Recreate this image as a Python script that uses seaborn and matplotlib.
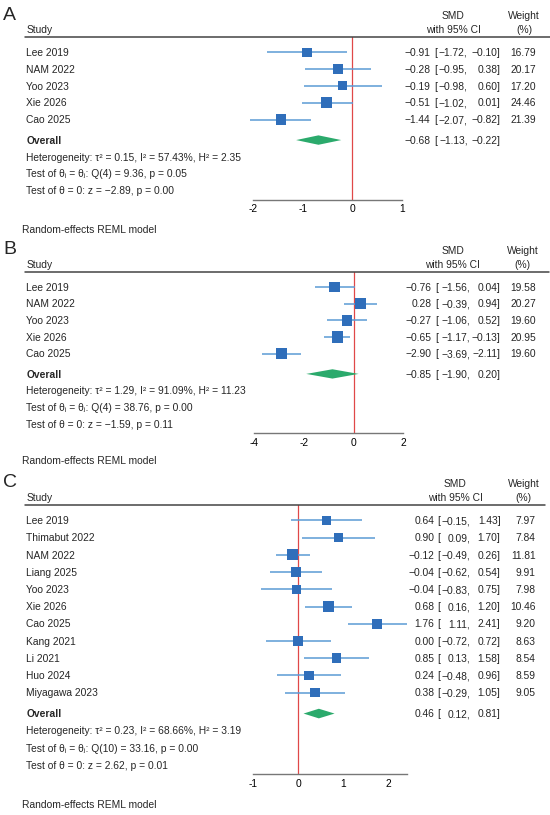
import matplotlib
matplotlib.use("Agg")
import matplotlib.pyplot as plt
import matplotlib.transforms as mtransforms
import pandas as pd
import seaborn as sns

# ---- data, panel A
a_studies = ["Lee 2019", "NAM 2022", "Yoo 2023", "Xie 2026", "Cao 2025"]
a_smd = [-0.91, -0.28, -0.19, -0.51, -1.44]
a_lo = [-1.72, -0.95, -0.98, -1.02, -2.07]
a_hi = [-0.10, 0.38, 0.60, 0.01, -0.82]
a_weight = [16.79, 20.17, 17.20, 24.46, 21.39]
a_overall = [-0.68, -1.13, -0.22]
a_stats = ["Heterogeneity: τ² = 0.15, I² = 57.43%, H² = 2.35",
           "Test of θᵢ = θⱼ: Q(4) = 9.36, p = 0.05",
           "Test of θ = 0: z = −2.89, p = 0.00"]
a_ticks = [-2, -1, 0, 1]

# ---- data, panel B
b_studies = ["Lee 2019", "NAM 2022", "Yoo 2023", "Xie 2026", "Cao 2025"]
b_smd = [-0.76, 0.28, -0.27, -0.65, -2.90]
b_lo = [-1.56, -0.39, -1.06, -1.17, -3.69]
b_hi = [0.04, 0.94, 0.52, -0.13, -2.11]
b_weight = [19.58, 20.27, 19.60, 20.95, 19.60]
b_overall = [-0.85, -1.90, 0.20]
b_stats = ["Heterogeneity: τ² = 1.29, I² = 91.09%, H² = 11.23",
           "Test of θᵢ = θⱼ: Q(4) = 38.76, p = 0.00",
           "Test of θ = 0: z = −1.59, p = 0.11"]
b_ticks = [-4, -2, 0, 2]

# ---- data, panel C
c_studies = ["Lee 2019", "Thimabut 2022", "NAM 2022", "Liang 2025", "Yoo 2023",
             "Xie 2026", "Cao 2025", "Kang 2021", "Li 2021", "Huo 2024",
             "Miyagawa 2023"]
c_smd = [0.64, 0.90, -0.12, -0.04, -0.04, 0.68, 1.76, 0.00, 0.85, 0.24, 0.38]
c_lo = [-0.15, 0.09, -0.49, -0.62, -0.83, 0.16, 1.11, -0.72, 0.13, -0.48, -0.29]
c_hi = [1.43, 1.70, 0.26, 0.54, 0.75, 1.20, 2.41, 0.72, 1.58, 0.96, 1.05]
c_weight = [7.97, 7.84, 11.81, 9.91, 7.98, 10.46, 9.20, 8.63, 8.54, 8.59, 9.05]
c_overall = [0.46, 0.12, 0.81]
c_stats = ["Heterogeneity: τ² = 0.23, I² = 68.66%, H² = 3.19",
           "Test of θᵢ = θⱼ: Q(10) = 33.16, p = 0.00",
           "Test of θ = 0: z = 2.62, p = 0.01"]
c_ticks = [-1, 0, 1, 2]

sns.set_theme(style="white")
plt.rcParams['font.family'] = ['Liberation Sans', 'DejaVu Sans']
plt.rcParams['axes.unicode_minus'] = False

W, H = 550, 815
fig = plt.figure(figsize=(5.5, 8.15), dpi=100)

SQ = "#2F6EBA"
CI = "#5B9BD5"
GREEN = "#2BAA6C"
RED = "#E04848"
FS = 7.4
DROP = 3.7  # px from text centre to baseline


def fx(x):
    return x / W


def fy(y):
    return 1 - y / H


def fmt(v):
    return f"{v:.2f}".replace("-", "\u2212")


def panel(label, studies, smd, lo, hi, weight, overall, stats, ticks,
          box, xlim, cols, heads, head_y, line_right, label_y, foot_y):
    left, right, top, bottom = box
    ax = fig.add_axes([fx(left), fy(bottom), fx(right - left), (bottom - top) / H])
    n = len(studies)
    df = pd.DataFrame({"study": studies, "smd": smd, "lo": lo, "hi": hi,
                       "weight": weight, "row": range(n)})
    side = 8.0  # points, side of the biggest square
    sizes = side ** 2 * df["weight"] / df["weight"].max()

    ax.hlines(df["row"], df["lo"], df["hi"], color=CI, lw=1.1, clip_on=False, zorder=2)
    sns.scatterplot(data=df, x="smd", y="row", marker="s", s=sizes, color=SQ,
                    linewidth=0, legend=False, ax=ax, clip_on=False, zorder=3)
    oy = n + 0.22
    est, olo, ohi = overall
    ax.fill([olo, est, ohi, est], [oy, oy - 0.28, oy, oy + 0.28], color=GREEN,
            lw=0, clip_on=False, zorder=3)
    ax.axvline(0, color=RED, lw=0.9, zorder=1)

    ax.set_xlim(*xlim)
    ax.set_ylim(n + 3.75, -0.9)
    ax.set_yticks([])
    ax.set_xticks(ticks)
    ax.set_xticklabels([str(t) for t in ticks])
    ax.set_xlabel("")
    ax.set_ylabel("")
    for s in ["top", "left", "right"]:
        ax.spines[s].set_visible(False)
    ax.spines["bottom"].set_bounds(*xlim)
    ax.spines["bottom"].set_color("#777777")
    ax.spines["bottom"].set_linewidth(1.0)
    ax.tick_params(axis="x", direction="out", length=3, width=0.8, colors="#777777",
                   labelcolor="black", labelsize=FS, pad=0.5)
    ax.patch.set_alpha(0)

    tr = mtransforms.blended_transform_factory(fig.transFigure, ax.transData)
    tr = mtransforms.offset_copy(tr, fig=fig, y=-DROP * 72 / 100, units="points")
    kw = dict(transform=tr, fontsize=FS, va="baseline")
    x1, xb, x2, x3, x4 = cols
    for i in range(n):
        fig.text(fx(26.5), i, studies[i], **kw)
        fig.text(fx(x1), i, fmt(smd[i]), ha="right", **kw)
        fig.text(fx(xb), i, "[", ha="left", **kw)
        fig.text(fx(x2), i, fmt(lo[i]) + ",", ha="right", **kw)
        fig.text(fx(x3), i, fmt(hi[i]) + "]", ha="right", **kw)
        fig.text(fx(x4), i, f"{weight[i]:.2f}", ha="right", **kw)
    fig.text(fx(26.5), oy, "Overall", fontweight="bold", **kw)
    fig.text(fx(x1), oy, fmt(est), ha="right", **kw)
    fig.text(fx(xb), oy, "[", ha="left", **kw)
    fig.text(fx(x2), oy, fmt(olo) + ",", ha="right", **kw)
    fig.text(fx(x3), oy, fmt(ohi) + "]", ha="right", **kw)
    for k, s in enumerate(stats):
        fig.text(fx(26.5), n + 1.22 + k, s, **kw)

    # header
    y1, y2 = head_y
    smd_c, w_c = heads
    hk = dict(fontsize=FS, ha="center", va="baseline")
    fig.text(fx(smd_c), fy(y1 + DROP), "SMD", **hk)
    fig.text(fx(smd_c), fy(y2 + DROP), "with 95% CI", **hk)
    fig.text(fx(w_c), fy(y1 + DROP), "Weight", **hk)
    fig.text(fx(w_c), fy(y2 + DROP), "(%)", **hk)
    fig.text(fx(26.5), fy(y2 + DROP), "Study", fontsize=FS, va="baseline")
    fig.add_artist(plt.Line2D([fx(25), fx(line_right)], [fy(top), fy(top)],
                              color="#444444", lw=1.1))
    fig.text(fx(3), fy(label_y), label, fontsize=14, va="center")
    fig.text(fx(21.7), fy(foot_y + DROP), "Random-effects REML model",
             fontsize=FS, va="baseline")


panel("A", a_studies, a_smd, a_lo, a_hi, a_weight, a_overall, a_stats, a_ticks,
      box=(253, 401.7, 37, 199.5), xlim=(-2, 1),
      cols=(430.3, 434, 467.7, 500.7, 535.7), heads=(453, 524),
      head_y=(15, 29), line_right=550, label_y=15, foot_y=229)
panel("B", b_studies, b_smd, b_lo, b_hi, b_weight, b_overall, b_stats, b_ticks,
      box=(254, 403.4, 272, 432.7), xlim=(-4, 2),
      cols=(432, 435, 470, 500.6, 536), heads=(452.5, 522.6),
      head_y=(250, 264), line_right=549, label_y=250, foot_y=460.7)
panel("C", c_studies, c_smd, c_lo, c_hi, c_weight, c_overall, c_stats, c_ticks,
      box=(253.2, 406.5, 505, 774.3), xlim=(-1, 2.41),
      cols=(434.3, 437, 470.5, 500.5, 535.6), heads=(455.3, 523.7),
      head_y=(483.3, 497), line_right=545, label_y=482.5, foot_y=804.3)

fig.savefig("out.png", dpi=100)
